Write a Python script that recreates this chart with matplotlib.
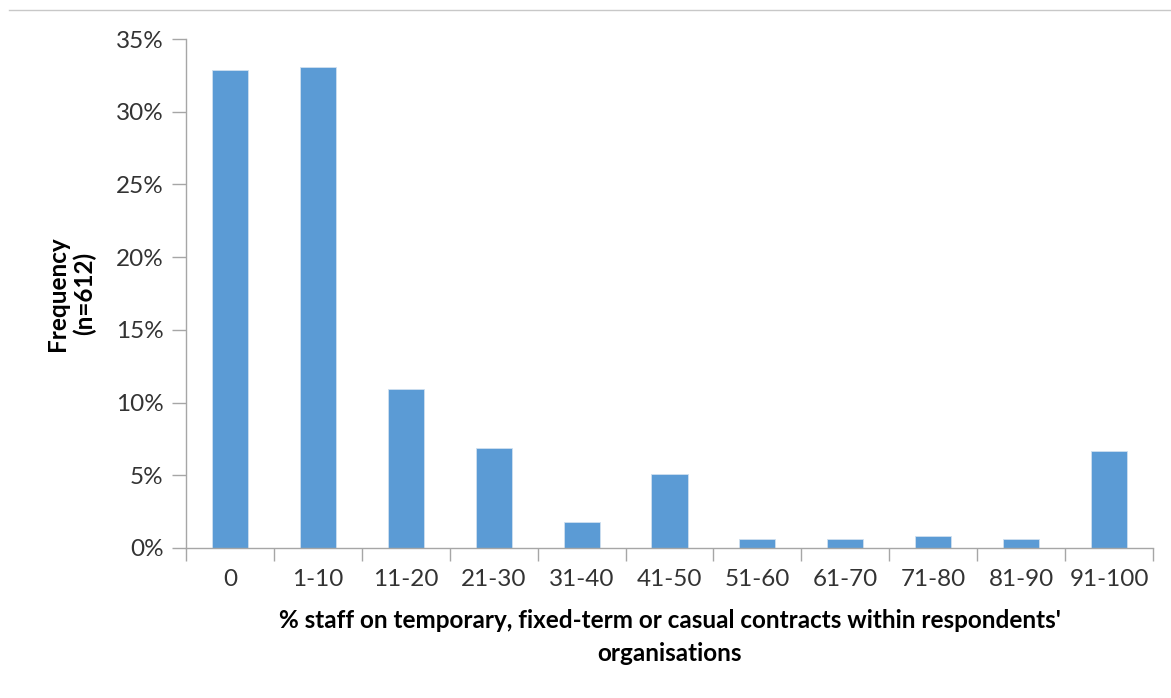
import numpy as np
import matplotlib.pyplot as plt

plt.rcParams['font.family'] = ['Lato', 'DejaVu Sans']

# values (percent of respondents)
categories = ['0', '1-10', '11-20', '21-30', '31-40', '41-50',
              '51-60', '61-70', '71-80', '81-90', '91-100']
freq = [32.85, 33.05, 10.95, 6.9, 1.8, 5.1, 0.65, 0.65, 0.82, 0.65, 6.7]
yticks = [0, 5, 10, 15, 20, 25, 30, 35]

fig = plt.figure(figsize=(11.71, 6.98), dpi=100)
ax = fig.add_axes([186 / 1171, 1 - 548 / 698, (1153 - 186) / 1171, (548 - 39) / 698])

x = np.arange(len(categories))
ax.bar(x, freq, width=0.41, color='#5b9bd5', edgecolor='#cfe0f0', linewidth=0.6, zorder=2)

ax.set_xlim(-0.5, len(categories) - 0.5)
ax.set_ylim(0, 35)
ax.set_yticks(yticks)
ax.set_yticklabels([f'{t}%' for t in yticks])

# category labels centred, tick marks between categories
ax.set_xticks(x)
ax.set_xticklabels(categories)
ax.set_xticks(np.arange(-0.5, len(categories)), minor=True)
ax.tick_params(axis='x', which='major', length=0, pad=15, labelsize=17.5, colors='#333333')
ax.tick_params(axis='x', which='minor', length=9, width=1, color='#a6a6a6')
ax.tick_params(axis='y', length=10, width=1, color='#a6a6a6', pad=6, labelsize=17.5, labelcolor='#333333')

for s in ['top', 'right']:
    ax.spines[s].set_visible(False)
for s in ['left', 'bottom']:
    ax.spines[s].set_color('#a6a6a6')
    ax.spines[s].set_linewidth(1)

ax.set_xlabel("% staff on temporary, fixed-term or casual contracts within respondents'\norganisations",
              fontsize=17.5, fontweight='bold', labelpad=14, linespacing=1.5)
ax.set_ylabel('Frequency\n(n=612)', fontsize=17.5, fontweight='bold', labelpad=14, linespacing=1.2)

# thin border line at the top of the picture
fig.add_artist(plt.Line2D([9 / 1171, 1], [1 - 10 / 698, 1 - 10 / 698], color='#c8c8c8', linewidth=1))

fig.savefig('out.png', dpi=100)
